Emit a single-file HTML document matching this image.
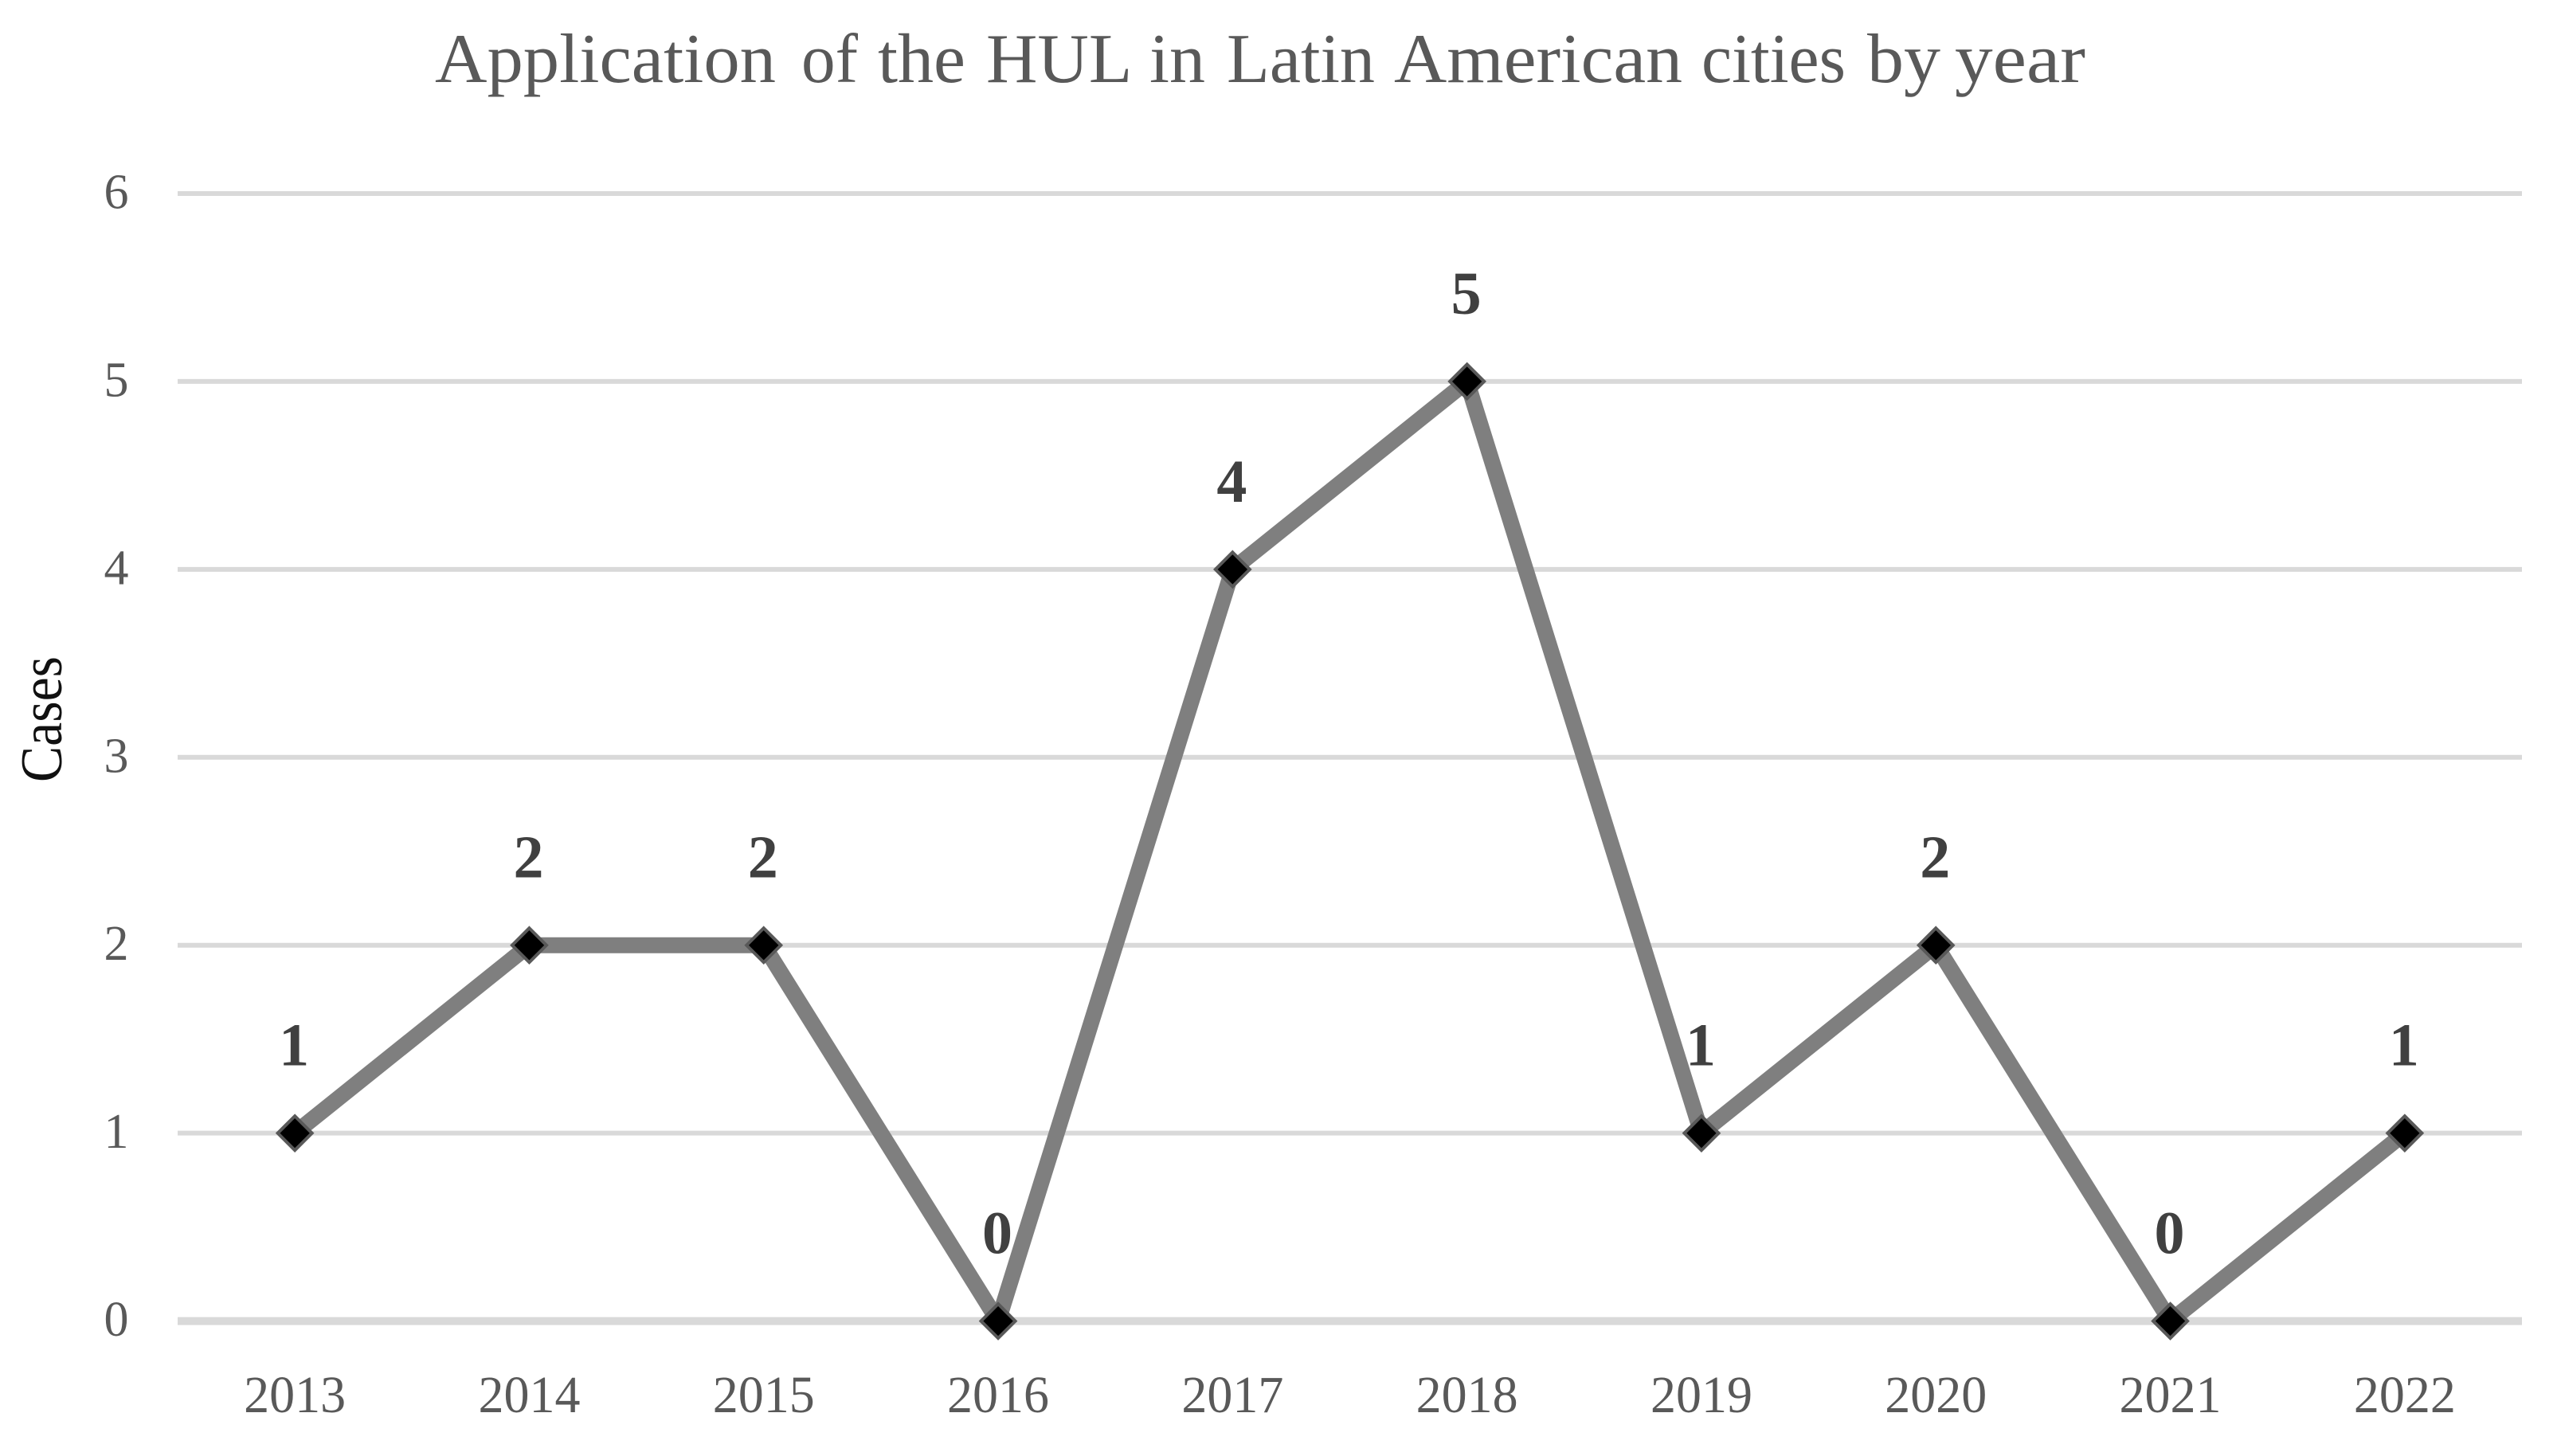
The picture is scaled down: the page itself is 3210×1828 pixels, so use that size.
<!DOCTYPE html>
<html lang="en">
<head>
<meta charset="utf-8">
<title>Application of the HUL in Latin American cities by year</title>
<style>
  html, body { margin: 0; padding: 0; background: #ffffff; }
  body { width: 3210px; height: 1828px; overflow: hidden; }
  svg { display: block; }
  text { font-family: "Liberation Serif", serif; }
</style>
</head>
<body>
<svg id="chart" xmlns="http://www.w3.org/2000/svg" width="3210" height="1828" viewBox="0 0 3210 1828">
  <rect x="0" y="0" width="3210" height="1828" fill="#ffffff"/>
  <text y="103" font-size="88" fill="#595959"><tspan x="546" textLength="428" lengthAdjust="spacingAndGlyphs">Application</tspan> <tspan x="1006" textLength="71" lengthAdjust="spacingAndGlyphs">of</tspan> <tspan x="1102" textLength="110" lengthAdjust="spacingAndGlyphs">the</tspan> <tspan x="1238" textLength="180" lengthAdjust="spacingAndGlyphs">HUL</tspan> <tspan x="1443" textLength="70" lengthAdjust="spacingAndGlyphs">in</tspan> <tspan x="1540" textLength="186" lengthAdjust="spacingAndGlyphs">Latin</tspan> <tspan x="1750" textLength="362" lengthAdjust="spacingAndGlyphs">American</tspan> <tspan x="2136" textLength="181" lengthAdjust="spacingAndGlyphs">cities</tspan> <tspan x="2344" textLength="92" lengthAdjust="spacingAndGlyphs">by</tspan> <tspan x="2454" textLength="164" lengthAdjust="spacingAndGlyphs">year</tspan></text>
  <text transform="translate(77 982) rotate(-90)" font-size="74" fill="#111111" textLength="158" lengthAdjust="spacingAndGlyphs">Cases</text>
  <g id="grid"></g>
  <g id="yticks"></g>
  <g id="xticks"></g>
  <g id="series"></g>
  <g id="labels"></g>
</svg>
<script>
const categories = ['2013','2014','2015','2016','2017','2018','2019','2020','2021','2022'];
const caseValues = [1,2,2,0,4,5,1,2,0,1];
const yTickLabels = [0,1,2,3,4,5,6];

const NS = 'http://www.w3.org/2000/svg';
const plotLeft = 223, plotRight = 3166, plotBottom = 1658.6, plotTop = 243;
const yMin = 0, yMax = 6;

function xScale(i) {
  const band = (plotRight - plotLeft) / categories.length;
  return plotLeft + band * (i + 0.5);
}
function yScale(v) {
  return plotBottom - (v - yMin) / (yMax - yMin) * (plotBottom - plotTop);
}
function make(tag, attrs, text) {
  const el = document.createElementNS(NS, tag);
  for (const k in attrs) el.setAttribute(k, attrs[k]);
  if (text !== undefined) el.textContent = text;
  return el;
}

const gridG = document.getElementById('grid');
const yG = document.getElementById('yticks');
yTickLabels.forEach(function (t) {
  const y = yScale(t);
  const line = make('line', { x1: plotLeft, x2: plotRight, y1: y, y2: y, stroke: '#d9d9d9', 'stroke-width': t === 0 ? 10 : 6 });
  
  
  gridG.appendChild(line);
  const label = make('text', { x: 146, y: y + 18.5, 'font-size': 62, fill: '#595959', 'text-anchor': 'middle' }, String(t));
  
  
  yG.appendChild(label);
});

const xG = document.getElementById('xticks');
categories.forEach(function (c, i) {
  const label = make('text', { x: xScale(i) - 64, y: 1773, 'font-size': 66, fill: '#595959', textLength: 128, lengthAdjust: 'spacingAndGlyphs' }, c);
  
  
  xG.appendChild(label);
});

const seriesG = document.getElementById('series');
const pts = caseValues.map(function (v, i) { return xScale(i) + ',' + yScale(v); }).join(' ');
const polyline = make('polyline', { points: pts, fill: 'none', stroke: '#7f7f7f', 'stroke-width': 20, 'stroke-linejoin': 'round', 'stroke-linecap': 'round' });


seriesG.appendChild(polyline);

const labelsG = document.getElementById('labels');
caseValues.forEach(function (v, i) {
  const x = xScale(i), y = yScale(v), h = 21.5;
  const marker = make('polygon', {
    points: x + ',' + (y - h) + ' ' + (x + h) + ',' + y + ' ' + x + ',' + (y + h) + ' ' + (x - h) + ',' + y,
    fill: '#000000', stroke: '#595959', 'stroke-width': 4
  });
  
  
  seriesG.appendChild(marker);
  const label = make('text', { x: x - 1, y: y - 85, 'font-size': 76, 'font-weight': 'bold', fill: '#404040', 'text-anchor': 'middle' }, String(v));
  
  
  labelsG.appendChild(label);
});
</script>
</body>
</html>
